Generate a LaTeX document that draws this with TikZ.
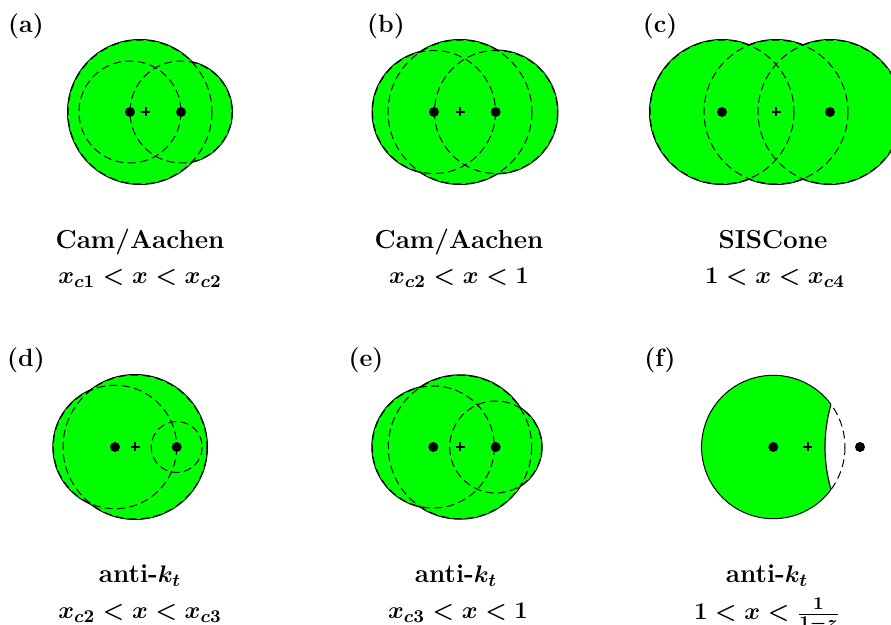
\documentclass[tikz,border=0pt]{standalone}
\usepackage{xcolor}
\usetikzlibrary{calc}
\definecolor{jGreen}{HTML}{00FF00}
\tikzset{
  jetedge/.style={draw=black, line width=1pt},
  jetfill/.style={fill=jGreen},
  % interior boundaries of the cones
  jetinner/.style={draw=black, line width=0.5pt, dash pattern=on 4pt off 2.2pt},
  parton/.style={circle, fill=black, inner sep=0pt, minimum size=5pt},
  axisbar/.style={line width=1.1pt},
  tag/.style={font=\fontsize{12.5}{14}\selectfont\bfseries, inner sep=0pt},
  capt/.style={font=\fontsize{13}{15}\selectfont\bfseries\boldmath,
               inner sep=0pt, anchor=base},
}
% union of cones: outer rim solid, inner rims dashed
\newcommand{\jetunion}[1]{%
  \foreach \cx/\cy/\r in {#1} \draw[jetedge] (\cx,\cy) circle[radius=\r];
  \foreach \cx/\cy/\r in {#1} \fill[jetfill] (\cx,\cy) circle[radius=\r];
  \foreach \cx/\cy/\r in {#1} \draw[jetinner] (\cx,\cy) circle[radius=\r];
}
\newcommand{\jetaxis}[1]{\draw[axisbar] #1 ++(-4.5,0) -- ++(9,0) #1 ++(0,-4.5) -- ++(0,9);}

\begin{document}
\begin{tikzpicture}[x=0.5pt, y=-0.5pt]
\useasboundingbox (0,0) rectangle (891,625);
\clip (0,0) rectangle (891,625);

\def\T{112}  % y of the top row
\def\B{447}  % y of the bottom row

%% ── (a) ──────────────────────────────────────────────────────────────────
\jetunion{130/\T/51, 181/\T/51, 140/\T/72}
\node[parton] (a1) at (130,\T) {};
\node[parton] (a2) at (181,\T) {};
\coordinate (aj) at (145.7,\T);
\jetaxis{(aj)}
\node[tag] (ta) at (26,26) {(a)};
\node[capt] (ca1) at (140,249) {Cam/Aachen};
\node[capt] (ca2) at (140,284) {$x_{c1}<x<x_{c2}$};

%% ── (b) ──────────────────────────────────────────────────────────────────
\jetunion{434/\T/61.5, 496/\T/61.5, 460/\T/72}
\node[parton] (b1) at (434,\T) {};
\node[parton] (b2) at (495.7,\T) {};
\coordinate (bj) at (460,\T);
\jetaxis{(bj)}
\node[tag] (tb) at (386,26) {(b)};
\node[capt] (cb1) at (459,249) {Cam/Aachen};
\node[capt] (cb2) at (459,284) {$x_{c2}<x<1$};

%% ── (c) ──────────────────────────────────────────────────────────────────
\jetunion{722/\T/72, 830/\T/72, 776/\T/72}
\node[parton] (c1) at (722,\T) {};
\node[parton] (c2) at (830,\T) {};
\coordinate (cj) at (776,\T);
\jetaxis{(cj)}
\node[tag] (tc) at (660,26) {(c)};
\node[capt] (cc1) at (773,249) {SISCone};
\node[capt] (cc2) at (775,284) {$1<x<x_{c4}$};

%% ── (d) ──────────────────────────────────────────────────────────────────
\jetunion{115/\B/61.7, 176.7/\B/25.5, 135/\B/72}
\node[parton] (d1) at (115,\B) {};
\node[parton] (d2) at (176.7,\B) {};
\coordinate (dj) at (135,\B);
\jetaxis{(dj)}
\node[tag] (td) at (26,360) {(d)};
\node[capt] (cd1) at (140,583) {anti-$k_t$};
\node[capt] (cd2) at (140,619) {$x_{c2}<x<x_{c3}$};

%% ── (e) ──────────────────────────────────────────────────────────────────
\jetunion{433.3/\B/61, 495.7/\B/46, 460/\B/71.7}
\node[parton] (e1) at (433.3,\B) {};
\node[parton] (e2) at (495.7,\B) {};
\coordinate (ej) at (460,\B);
\jetaxis{(ej)}
\node[tag] (te) at (366,360) {(e)};
\node[capt] (ce1) at (456,583) {anti-$k_t$};
\node[capt] (ce2) at (458,619) {$x_{c3}<x<1$};

%% ── (f) ──────────────────────────────────────────────────────────────────
\coordinate (fc) at (773.3,\B);   % hard jet
\coordinate (fk) at (978.5,\B);   % cut-out
\filldraw[jetfill, draw=black, line width=0.5pt] (fc) circle[radius=71.7];
\begin{scope}
  \clip (fk) circle[radius=153.5];
  \fill[white] (fc) circle[radius=74];
  \draw[jetinner] (fc) circle[radius=71.7];
\end{scope}
\begin{scope}
  \clip (fc) circle[radius=71.7];
  \draw[line width=0.6pt] (fk) circle[radius=153.5];
\end{scope}
\node[parton] (f1) at (fc) {};
\node[parton] (f2) at (860,\B) {};
\coordinate (fj) at (807.7,\B);
\jetaxis{(fj)}
\node[tag] (tf) at (660,360) {(f)};
\node[capt] (cf1) at (767,583) {anti-$k_t$};
\node[capt] (cf2) at (767,620) {$1<x<\frac{1}{1-z}$};

\end{tikzpicture}
\end{document}
